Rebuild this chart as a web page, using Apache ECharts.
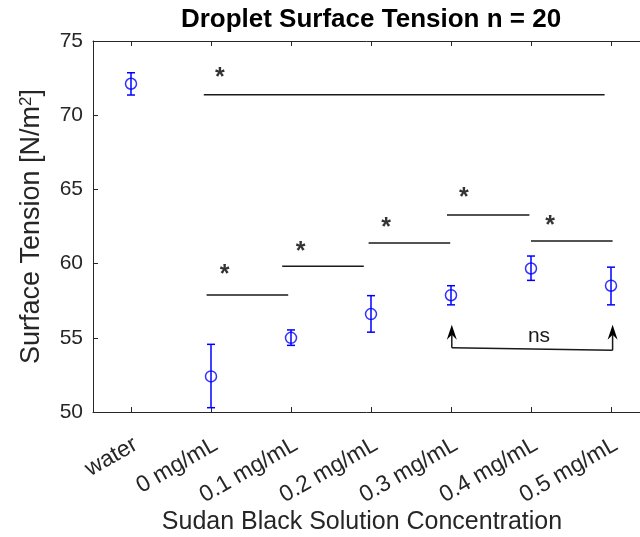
<!DOCTYPE html>
<html>
<head>
<meta charset="utf-8">
<script src="https://cdn.jsdelivr.net/npm/echarts@6/dist/echarts.min.js"></script>
<style>
html, body { margin: 0; padding: 0; background: #fff; }
#main { width: 640px; height: 537px; }
</style>
</head>
<body>
<div id="main"></div>
<script>
// groups on the x axis and the measured surface tension (N/m^2)
var categories = ['water', '0 mg/mL', '0.1 mg/mL', '0.2 mg/mL', '0.3 mg/mL', '0.4 mg/mL', '0.5 mg/mL'];
var positions = [1, 2, 3, 4, 5, 6, 7];
var meanValues = [72.12, 52.4, 55.0, 56.6, 57.87, 59.67, 58.51];
var lowerValues = [71.36, 50.29, 54.49, 55.38, 57.22, 58.87, 57.22];
var upperValues = [72.86, 54.56, 55.53, 57.84, 58.51, 60.51, 59.76];

// significance bars [xStart, xEnd, y] and their stars [x, y]
var sigBars = [
  [1.91, 6.92, 71.38],
  [1.945, 2.965, 57.89],
  [2.89, 3.91, 59.82],
  [3.97, 4.99, 61.38],
  [4.95, 5.98, 63.28],
  [6.0, 7.02, 61.53]
];
var sigStars = [[2.11, 72.81], [2.17, 59.56], [3.12, 61.13], [4.19, 62.74], [5.16, 64.76], [6.24, 62.88]];

// "ns" bracket: arrows [x, base, tip], joining line, label
var nsArrows = [[5.01, 54.33, 55.88], [7.02, 54.16, 55.88]];
var nsLine = [[5.01, 54.33], [7.02, 54.16]];
var nsLabel = [[6.1, 55.1]];

var blue = '#0000ff';
var ink = '#262626';
var font = 'Liberation Sans, Arial, sans-serif';
var labelShift = 0.06; // rotated tick labels sit a bit right of their tick, like MATLAB

var myChart = echarts.init(document.getElementById('main'));

function errorBar(params, api) {
  var x = api.value(0);
  var lo = api.coord([x, api.value(1)]);
  var hi = api.coord([x, api.value(2)]);
  var cap = 4;
  var st = { stroke: blue, lineWidth: 1.5 };
  return {
    type: 'group',
    children: [
      { type: 'line', shape: { x1: lo[0], y1: lo[1], x2: hi[0], y2: hi[1] }, style: st },
      { type: 'line', shape: { x1: lo[0] - cap, y1: lo[1], x2: lo[0] + cap, y2: lo[1] }, style: st },
      { type: 'line', shape: { x1: hi[0] - cap, y1: hi[1], x2: hi[0] + cap, y2: hi[1] }, style: st }
    ]
  };
}

function sigBar(params, api) {
  var a = api.coord([api.value(0), api.value(2)]);
  var b = api.coord([api.value(1), api.value(2)]);
  return {
    type: 'line',
    shape: { x1: a[0], y1: a[1], x2: b[0], y2: b[1] },
    style: { stroke: '#1a1a1a', lineWidth: 1.5 }
  };
}

function arrow(params, api) {
  var base = api.coord([api.value(0), api.value(1)]);
  var tip = api.coord([api.value(0), api.value(2)]);
  var w = 5, len = 15, notch = 10;
  return {
    type: 'group',
    children: [
      { type: 'line', shape: { x1: base[0], y1: base[1], x2: tip[0], y2: tip[1] + notch },
        style: { stroke: '#1a1a1a', lineWidth: 1.5 } },
      { type: 'polygon', shape: { points: [
          [tip[0], tip[1]], [tip[0] + w, tip[1] + len], [tip[0], tip[1] + notch], [tip[0] - w, tip[1] + len]
        ] }, style: { fill: '#000' } }
    ]
  };
}

// plain text mark placed at a data point
function textMark(params, api) {
  var p = api.coord([api.value(0), api.value(1)]);
  return {
    type: 'text',
    x: p[0],
    y: p[1],
    style: { text: 'ns', font: '21px ' + font, fill: '#1a1a1a', textAlign: 'center', textVerticalAlign: 'middle' }
  };
}

var xCommon = {
  type: 'value',
  min: 0.525,
  max: 7.3625,
  splitLine: { show: false },
  axisLine: { show: true, onZero: false, lineStyle: { color: ink, width: 1 } },
  axisTick: { show: true, inside: true, length: 5, customValues: positions, lineStyle: { color: ink } }
};

var plainText = { textBorderWidth: 0, textBorderColor: 'transparent', textShadowBlur: 0 };

myChart.setOption({
  animation: false,
  textStyle: { fontFamily: font },
  grid: { left: 93, right: 0, top: 41, bottom: 125 },
  graphic: [
    { type: 'text', x: 371, y: 20, style: { text: 'Droplet Surface Tension n = 20', font: 'bold 26px ' + font,
      fill: '#000', textAlign: 'center', textVerticalAlign: 'middle' } },
    { type: 'text', x: 362, y: 522, style: { text: 'Sudan Black Solution Concentration', font: '25px ' + font,
      fill: ink, textAlign: 'center', textVerticalAlign: 'middle' } }
  ],
  xAxis: [
    Object.assign({}, xCommon, {
      position: 'bottom',
      axisLabel: {
        customValues: positions.map(function (p) { return p + labelShift; }),
        rotate: 30,
        margin: 31,
        fontSize: 23,
        color: ink,
        formatter: function (v) { return categories[Math.round(v - labelShift) - 1]; }
      }
    }),
    Object.assign({}, xCommon, { position: 'top', axisLabel: { show: false } })
  ],
  yAxis: {
    type: 'value',
    min: 50,
    max: 75,
    interval: 5,
    splitLine: { show: false },
    axisLine: { show: true, lineStyle: { color: ink, width: 1 } },
    axisTick: { show: true, inside: true, length: 5, lineStyle: { color: ink } },
    axisLabel: { fontSize: 21, color: ink, margin: 10 },
    name: 'Surface Tension [N/m{sup|2}]',
    nameLocation: 'middle',
    nameGap: 48,
    nameTextStyle: {
      fontSize: 27,
      color: ink,
      rich: { sup: { fontSize: 17, color: ink, verticalAlign: 'top' } }
    }
  },
  series: [
    {
      type: 'custom',
      renderItem: errorBar,
      encode: { x: 0, y: [1, 2] },
      data: positions.map(function (p, i) { return [p, lowerValues[i], upperValues[i]]; }),
      z: 3
    },
    {
      type: 'scatter',
      symbol: 'circle',
      symbolSize: 11,
      itemStyle: { color: 'rgba(0,0,0,0)', borderColor: blue, borderWidth: 1.5 },
      data: positions.map(function (p, i) { return [p, meanValues[i]]; }),
      z: 4
    },
    {
      type: 'custom',
      renderItem: sigBar,
      encode: { x: [0, 1], y: 2 },
      data: sigBars
    },
    {
      type: 'scatter',
      symbolSize: 1,
      itemStyle: { color: 'rgba(0,0,0,0)' },
      label: Object.assign({ show: true, position: 'inside', formatter: '*', fontSize: 25, fontWeight: 'bold',
        color: '#000', offset: [0, 5] }, plainText),
      data: sigStars
    },
    {
      type: 'custom',
      renderItem: arrow,
      encode: { x: 0, y: [1, 2] },
      data: nsArrows
    },
    {
      type: 'line',
      symbol: 'none',
      lineStyle: { color: '#1a1a1a', width: 1.5 },
      data: nsLine
    },
    {
      type: 'custom',
      renderItem: textMark,
      encode: { x: 0, y: 1 },
      data: nsLabel
    }
  ]
});
</script>
</body>
</html>
